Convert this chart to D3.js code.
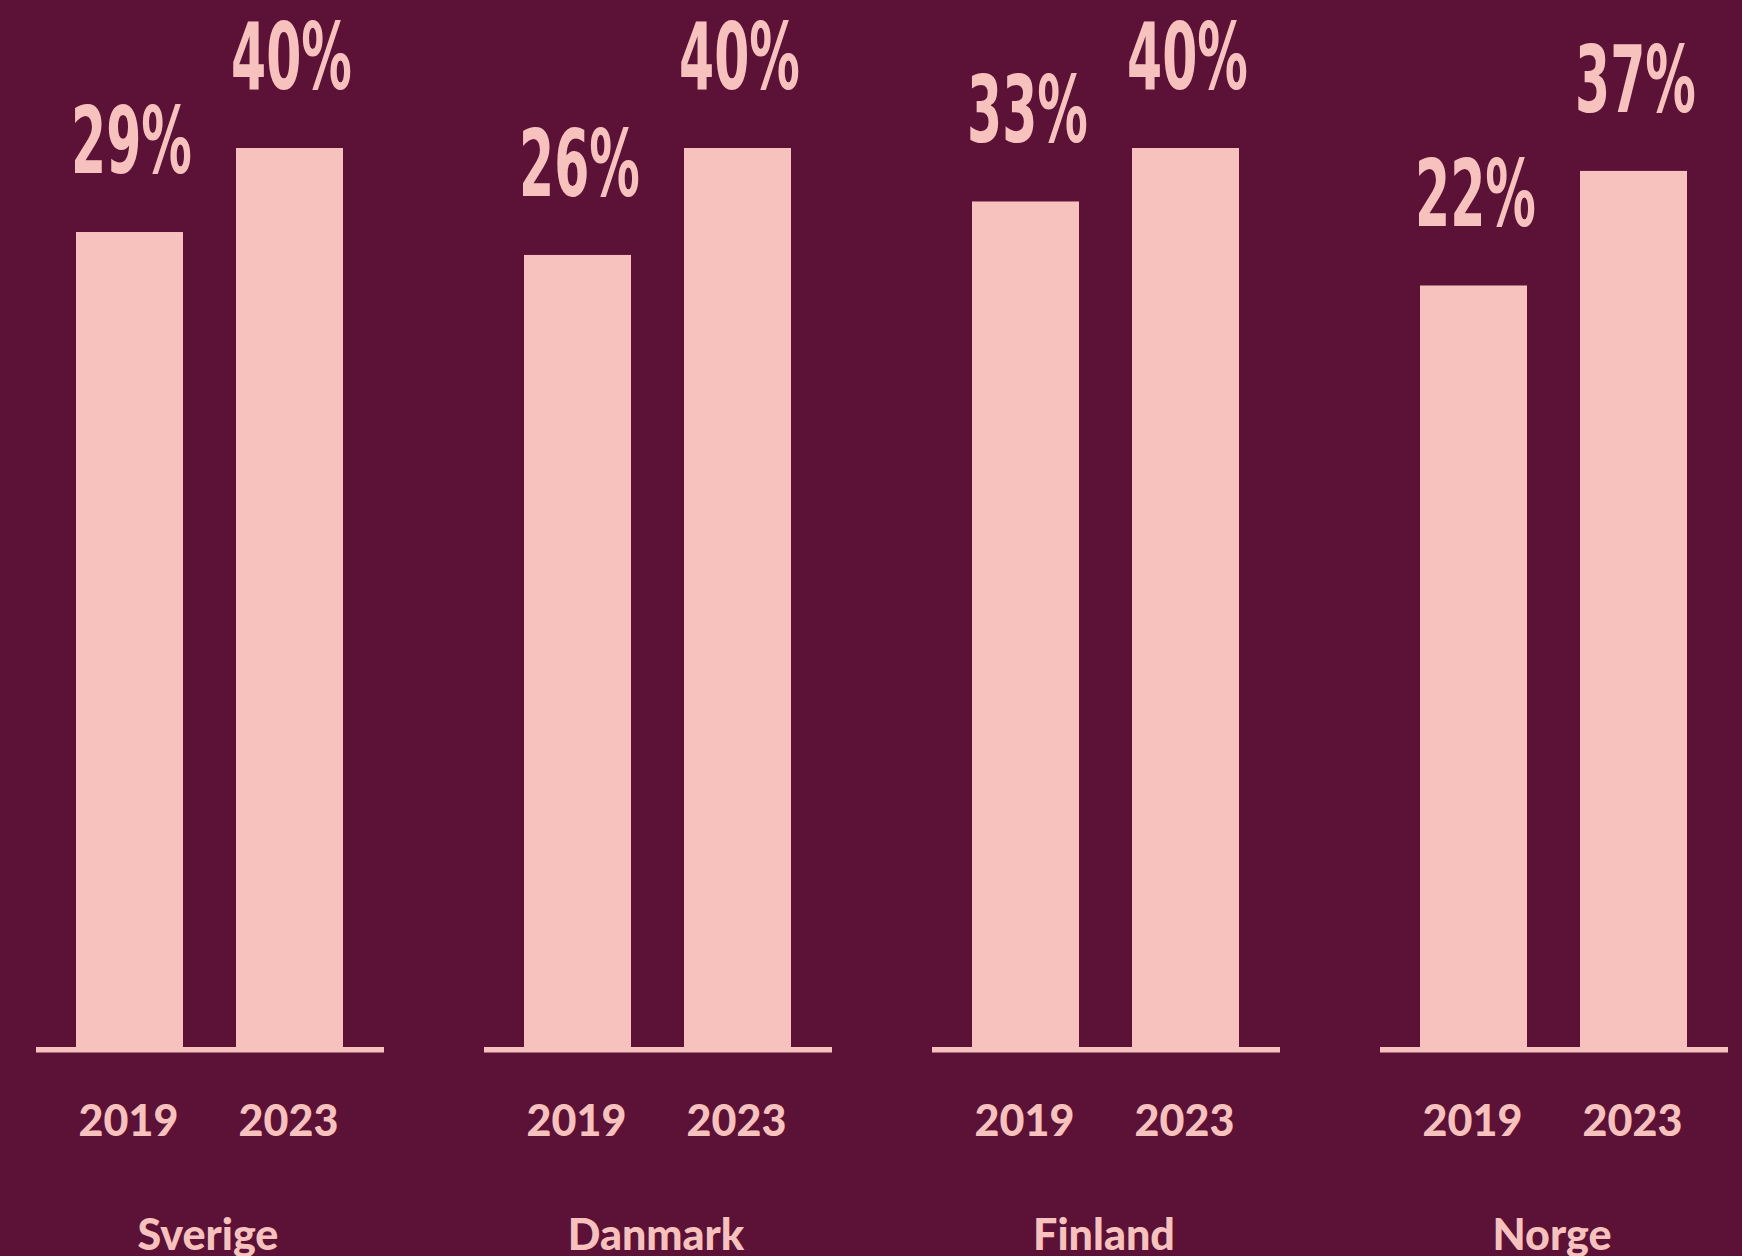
<!DOCTYPE html>
<html>
<head>
<meta charset="utf-8">
<script src="https://cdn.jsdelivr.net/npm/d3@7"></script>
<style>
  html, body { margin: 0; padding: 0; background: #5c1137; overflow: hidden; }
  svg { display: block; }
</style>
</head>
<body>
<svg id="chart" width="1742" height="1256"></svg>
<script>
// ---- Data ----
const countries = ["Sverige", "Danmark", "Finland", "Norge"];
const years = ["2019", "2023"];
const values2019 = [29, 26, 33, 22];
const values2023 = [40, 40, 40, 37];

// ---- Styles ----
const BG = "#5c1137";
const PINK = "#f7c2be";

const W = 1742, H = 1256;
const baseline = 1047;
const svg = d3.select("#chart");
svg.append("rect").attr("width", W).attr("height", H).attr("fill", BG);

const table = countries.map((c, i) => ({
  country: c,
  bars: [
    { year: years[0], value: values2019[i] },
    { year: years[1], value: values2023[i] }
  ]
}));

const x0 = d3.scaleBand().domain(countries).range([36, 1728]).paddingInner(0.2232).paddingOuter(0);
const x1 = d3.scaleBand().domain(years).range([40, 307]).paddingInner(0.33125).paddingOuter(0);
const y = d3.scaleLinear().domain([-77.7, 40]).range([baseline, 148]);

const groups = svg.selectAll("g.grp").data(table).join("g")
  .attr("class", "grp")
  .attr("transform", d => `translate(${x0(d.country)},0)`);

// bars
groups.selectAll("rect.bar").data(d => d.bars).join("rect")
  .attr("class", "bar")
  .attr("x", d => x1(d.year))
  .attr("width", x1.bandwidth())
  .attr("y", d => y(d.value))
  .attr("height", d => baseline - y(d.value))
  .attr("fill", PINK);

// baseline
groups.append("rect")
  .attr("x", 0)
  .attr("width", x0.bandwidth())
  .attr("y", baseline)
  .attr("height", 5.5)
  .attr("fill", PINK);

// value labels (condensed)
groups.selectAll("text.val").data(d => d.bars).join("text")
  .attr("class", "val")
  .attr("transform", d => `translate(${x1(d.year) + x1.bandwidth() / 2 + 2},${y(d.value) - 59}) scale(0.61,1)`)
  .attr("text-anchor", "middle")
  .attr("font-family", "'Liberation Sans Narrow', 'DejaVu Sans Condensed', 'Liberation Sans', sans-serif")
  .attr("font-weight", "bold")
  .attr("font-size", 92)
  .attr("fill", PINK)
  .text(d => d.value + "%");

// year labels
groups.selectAll("text.yr").data(d => d.bars).join("text")
  .attr("class", "yr")
  .attr("x", d => x1(d.year) + x1.bandwidth() / 2 - 1)
  .attr("y", 1136)
  .attr("text-anchor", "middle")
  .attr("font-family", "Lato, 'Open Sans', sans-serif")
  .attr("font-weight", 900)
  .attr("font-size", 43)
  .attr("fill", PINK)
  .text(d => d.year);

// country labels
groups.append("text")
  .attr("x", x0.bandwidth() / 2 - 2)
  .attr("y", 1250)
  .attr("text-anchor", "middle")
  .attr("font-family", "Lato, 'Open Sans', sans-serif")
  .attr("font-weight", 900)
  .attr("font-size", 43)
  .attr("fill", PINK)
  .text(d => d.country);
</script>
</body>
</html>
